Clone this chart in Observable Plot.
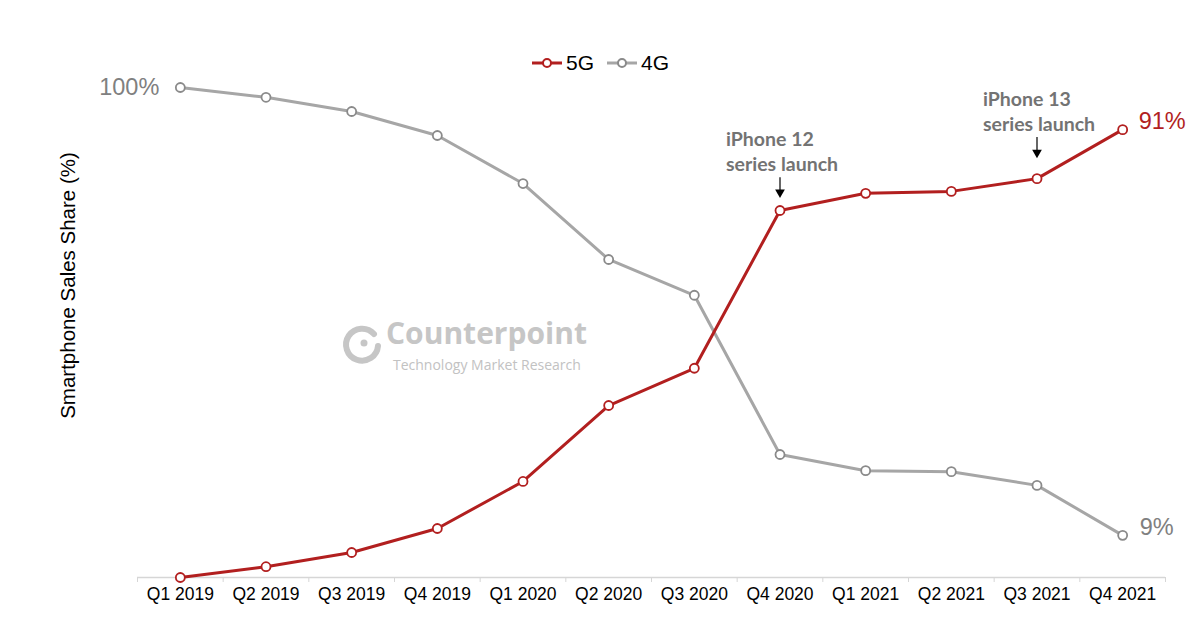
<!DOCTYPE html>
<html><head><meta charset="utf-8">
<script src="https://cdn.jsdelivr.net/npm/d3@7"></script>
<script src="https://cdn.jsdelivr.net/npm/@observablehq/plot@0.6"></script>
<style>
body{margin:0;background:#fff;font-family:"Liberation Sans",Arial,sans-serif;}
#wrap{position:relative;width:1200px;height:643px;overflow:hidden;background:#fff}
#legend{height:80px;position:relative}
#legend .row{position:absolute;top:50px;left:0;right:0;height:26px;display:flex;justify-content:center;align-items:center;font-size:21px;color:#000}
#legend .item{display:flex;align-items:center;margin:0 6px}
#legend svg{margin-right:3px}
#chart svg{display:block}
#wm{position:absolute;left:0;top:0;width:0;height:0;pointer-events:none;font-family:"Open Sans",sans-serif}
#wm .t1{position:absolute;left:386px;top:318px;font-size:30px;font-weight:700;color:#c6c6c6;line-height:1;white-space:nowrap}
#wm .t2{position:absolute;left:393px;top:358px;font-size:14px;color:#c2c2c2;line-height:1;white-space:nowrap}
#wm .logo{position:absolute;left:340px;top:322px}
</style>
</head><body>
<div id="wrap">
  <div id="legend"><div class="row" id="legrow"></div></div>
  <div id="chart"></div>
  <div id="wm">
    <svg class="logo" width="46" height="46"><path d="M 34 12 A 16 16 0 1 0 38 24" fill="none" stroke="#c6c6c6" stroke-width="6" stroke-linecap="round"/><circle cx="24" cy="21" r="3.5" fill="#c6c6c6"/></svg>
    <div class="t1">Counterpoint</div>
    <div class="t2">Technology Market Research</div>
  </div>
</div>
<script>
const quarters = ["Q1 2019","Q2 2019","Q3 2019","Q4 2019","Q1 2020","Q2 2020","Q3 2020","Q4 2020","Q1 2021","Q2 2021","Q3 2021","Q4 2021"];
const share5G = [0, 2.2, 5.1, 10, 19.6, 35.1, 42.7, 74.9, 78.4, 78.8, 81.4, 91.4];
const share4G = [100, 98, 95.1, 90.2, 80.4, 64.9, 57.6, 25.1, 21.8, 21.6, 18.8, 8.6];
const seriesNames = ["5G", "4G"];
const lineColors = ["#b21f1f", "#a6a6a6"];
const dotColors = ["#b21f1f", "#8a8a8a"];
const endLabels = [
  {i: 0, v: share4G[0], text: "100%", color: "#808080", anchor: "end", dx: -21, dy: 0},
  {i: 11, v: share5G[11], text: "91%", color: "#b21f1f", anchor: "start", dx: 16, dy: -8},
  {i: 11, v: share4G[11], text: "9%", color: "#808080", anchor: "start", dx: 17, dy: -8}
];
const annotations = [
  {i: 7, textY: 83.0, from: 81.6, tip: 78.6, text: "iPhone 12\nseries launch"},
  {i: 10, textY: 91.1, from: 89.8, tip: 86.7, text: "iPhone 13\nseries launch"}
];

// legend
const legrow = document.getElementById("legrow");
seriesNames.forEach((name, k) => {
  const it = document.createElement("div");
  it.className = "item";
  it.innerHTML = `<svg width="32" height="14"><line x1="1" y1="7" x2="31" y2="7" stroke="${lineColors[k]}" stroke-width="3"/><circle cx="16" cy="7" r="4" fill="white" stroke="${dotColors[k]}" stroke-width="2"/></svg><span>${name}</span>`;
  legrow.appendChild(it);
});

const idx = d3.range(quarters.length);
const chart = Plot.plot({
  width: 1200,
  height: 563,
  marginTop: 7,
  marginBottom: 66,
  marginLeft: 137,
  marginRight: 35,
  style: {fontFamily: "Liberation Sans, Arial, sans-serif", background: "transparent", overflow: "visible"},
  x: {domain: [-0.5, quarters.length - 0.5], label: null},
  y: {domain: [0, 100], axis: null, label: null},
  marks: [
    Plot.ruleY([0], {stroke: "#d6d6d6", strokeWidth: 1.3}),
    Plot.axisX(d3.range(quarters.length + 1).map(i => i - 0.5), {tickSize: 5, tickFormat: () => "", stroke: "#d6d6d6", label: null}),
    Plot.axisX(idx, {tickSize: 0, tickPadding: 10, tickFormat: i => quarters[i], fontSize: 17.5, fill: "#000", label: null}),
    Plot.text(["Smartphone Sales Share (%)"], {frameAnchor: "left", textAnchor: "middle", dx: -69, dy: -47, rotate: -90, fontSize: 20.5, fill: "#000"}),
    Plot.lineY(share4G, {x: (d, i) => i, y: d => d, stroke: lineColors[1], strokeWidth: 3}),
    Plot.lineY(share5G, {x: (d, i) => i, y: d => d, stroke: lineColors[0], strokeWidth: 3}),
    Plot.dot(share4G, {x: (d, i) => i, y: d => d, r: 4.5, fill: "white", stroke: dotColors[1], strokeWidth: 1.8}),
    Plot.dot(share5G, {x: (d, i) => i, y: d => d, r: 4.5, fill: "white", stroke: dotColors[0], strokeWidth: 1.8}),
    ...endLabels.map(d => Plot.text([d], {x: "i", y: "v", text: "text", fill: d.color, textAnchor: d.anchor, dx: d.dx, dy: d.dy, fontSize: 23.5})),
    Plot.text(annotations, {x: "i", y: "textY", text: "text", textAnchor: "start", lineAnchor: "bottom", dx: -54, lineHeight: 1.28, fontSize: 19.5, fontWeight: 700, fill: "#737373", fontFamily: "Lato, 'Open Sans', sans-serif"}),
    Plot.ruleX(annotations, {x: "i", y1: "from", y2: "tip", stroke: "#000", strokeWidth: 1.2}),
    Plot.dot(annotations, {x: "i", y: "tip", symbol: "triangle", rotate: 180, r: 3.6, fill: "#000", stroke: "none"})
  ]
});
document.getElementById("chart").appendChild(chart);
</script>
</body></html>
